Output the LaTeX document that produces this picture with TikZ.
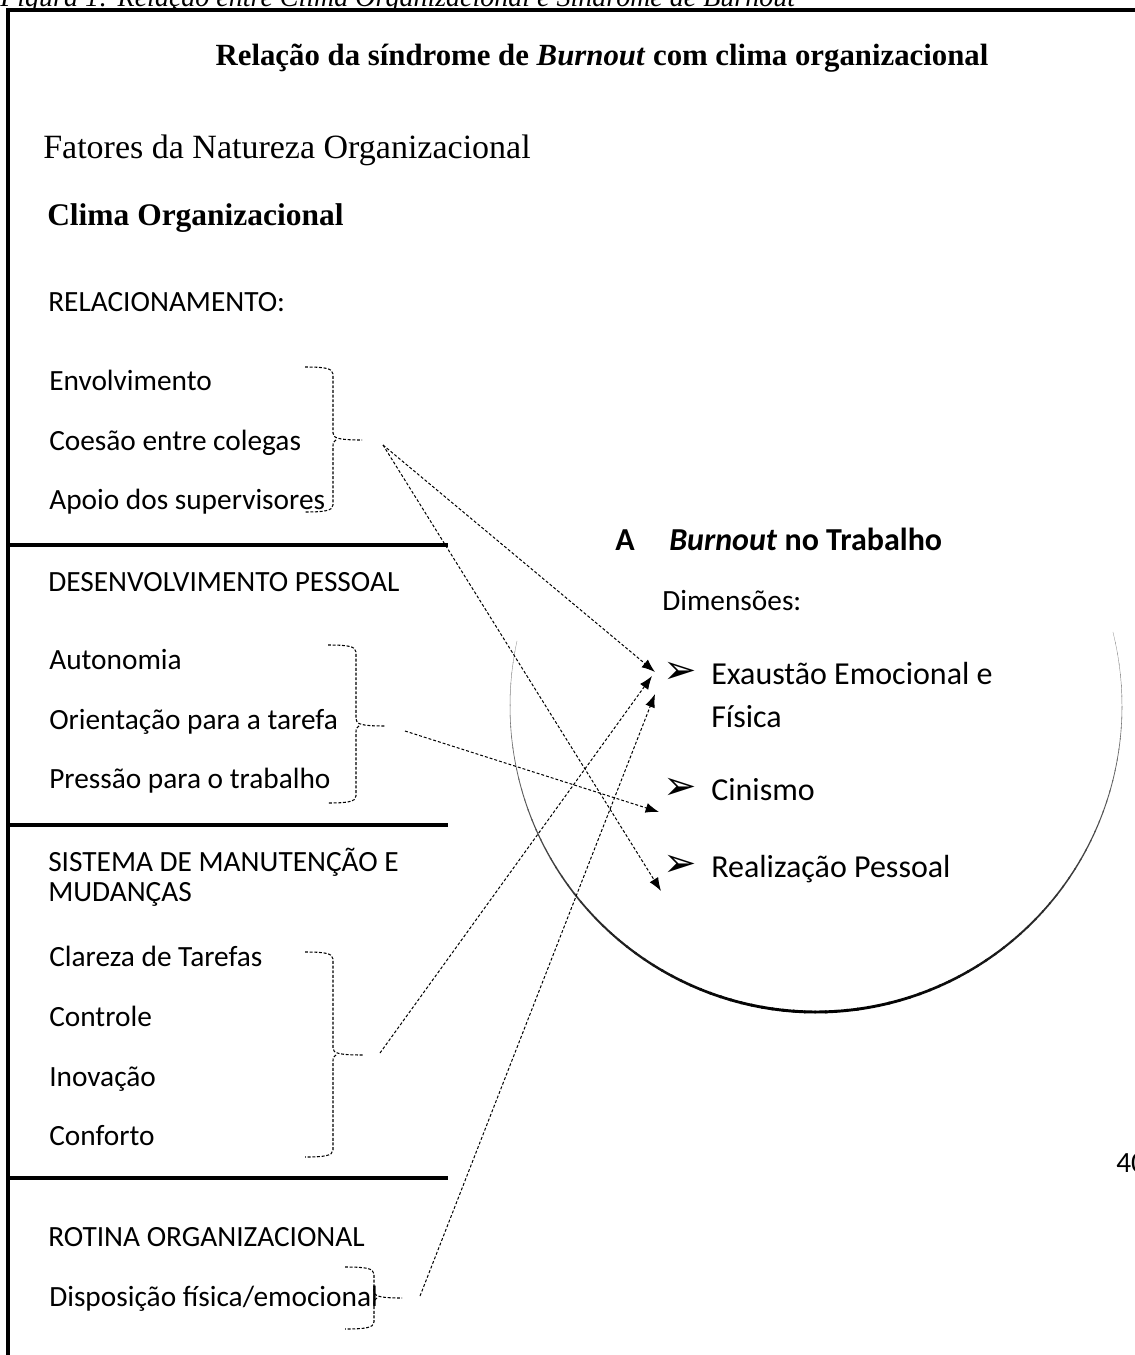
\documentclass[tikz,border=0pt]{standalone}
\usepackage{fontspec}
\setmainfont{Liberation Serif}
\newfontfamily\calfont{Carlito}
\newfontfamily\symfont{DejaVu Sans}
\usetikzlibrary{arrows.meta}
\newcommand\mybrace[6]{% L V T A M B
  \draw[bracestyle] (#1,#4) .. controls (#2-10,#4) and (#2,#4+1) .. (#2,#4+7) -- (#2,#5-7) .. controls (#2,#5-2) and (#2+5,#5) .. (#3,#5);
  \draw[bracestyle] (#2+3,#5) .. controls (#2,#5+1) and (#2,#5+3) .. (#2,#5+7) -- (#2,#6-7) .. controls (#2,#6-1) and (#2-10,#6) .. (#1,#6);
}
\begin{document}
\begin{tikzpicture}[x=0.75pt,y=-0.75pt,
  txt/.style={inner sep=0pt, anchor=base west, font=\calfont\fontsize{22}{26}\selectfont},
  bigtxt/.style={inner sep=0pt, anchor=base west, font=\calfont\fontsize{24}{28}\selectfont},
  bul/.style={inner sep=0pt, anchor=west, font=\symfont\fontsize{30}{34}\selectfont},
  frameline/.style={line width=2.4pt, line cap=rect},
  sepline/.style={line width=2.6pt},
  bracestyle/.style={line width=0.8pt, dash pattern=on 2.2pt off 1.3pt},
  link/.style={line width=0.75pt, dash pattern=on 2.2pt off 1.5pt, -{Latex[length=10pt,width=7.5pt]}}]
\useasboundingbox (0,0) rectangle (1134,1355);
% circle (lower part, varying width)
\coordinate (cen) at (816,706);
\foreach \a in {-14,-12,...,190}{
  \pgfmathsetmacro\f{((1+sin(\a+1))/2)^3}
  \pgfmathsetmacro\w{0.12+2.1*\f}
  \pgfmathsetmacro\pc{25+75*sqrt(\f)}
  \draw[line width=\w pt, black!\pc] ([shift={(\a:306)}]cen) arc[start angle=\a, end angle=\a+2.3, radius=306];
}
% caption (cut by top edge)
\node[inner sep=0pt, anchor=base west, font=\itshape\fontsize{21}{25}\selectfont] (cap) at (0,7) {Figura 1: Relação entre Clima Organizacional e Síndrome de \textit{Burnout}};
% frame
\draw[frameline] (8,1360) -- (8,10) -- (1140,10);
% titles
\node[inner sep=0pt, anchor=base, font=\bfseries\fontsize{23.1}{28}\selectfont] (title) at (602,66) {Relação da síndrome de \textit{Burnout} com clima organizacional};
\node[inner sep=0pt, anchor=base west, font=\fontsize{25.5}{30}\selectfont] (fat) at (43,159) {Fatores da Natureza Organizacional};
\node[inner sep=0pt, anchor=base west, font=\bfseries\fontsize{23.6}{28}\selectfont] (clima) at (47,226) {Clima Organizacional};
% left column
\node[txt] (rel) at (48,311) {RELACIONAMENTO:};
\node[txt] (env) at (49,390) {Envolvimento};
\node[txt] (coe) at (49,450) {Coesão entre colegas};
\node[txt] (apo) at (49,509) {Apoio dos supervisores};
\node[txt] (des) at (48,591) {DESENVOLVIMENTO PESSOAL};
\node[txt] (aut) at (49,669) {Autonomia};
\node[txt] (ori) at (49,729) {Orientação para a tarefa};
\node[txt] (pre) at (49,788) {Pressão para o trabalho};
\node[txt] (sis) at (48,871) {SISTEMA DE MANUTENÇÃO E};
\node[txt] (mud) at (48,901) {MUDANÇAS};
\node[txt] (cla) at (49,966) {Clareza de Tarefas};
\node[txt] (con) at (49,1026) {Controle};
\node[txt] (ino) at (49,1086) {Inovação};
\node[txt] (conf) at (49,1145) {Conforto};
\node[txt] (rot) at (48,1246) {ROTINA ORGANIZACIONAL};
\node[txt] (dis) at (49,1306) {Disposição física/emocional};
% separators
\draw[sepline] (8,545) -- (448,545);
\draw[sepline] (8,825) -- (448,825);
\draw[sepline] (8,1178) -- (448,1178);
% braces
\mybrace{305}{333}{362}{367}{440}{512}
\mybrace{328}{356}{385}{645}{726}{803}
\mybrace{305}{333}{363}{952}{1055}{1157}
\mybrace{345}{374}{402}{1267}{1298}{1329}
% right side
\node[inner sep=0pt, anchor=base west, font=\calfont\bfseries\fontsize{24}{28}\selectfont] (hA) at (615,550) {A};
\node[inner sep=0pt, anchor=base west, font=\calfont\bfseries\fontsize{24}{28}\selectfont] (hB) at (669,550) {\textit{Burnout} no Trabalho};
\node[txt] (dim) at (662,610) {Dimensões:};
\node[bul] (b1) at (663,673) {➢};
\node[bul] (b2) at (663,789) {➢};
\node[bul] (b3) at (663,866) {➢};
\node[bigtxt] (exa) at (711,684) {Exaustão Emocional e};
\node[bigtxt] (fis) at (711,727) {Física};
\node[bigtxt] (cin) at (711,800) {Cinismo};
\node[bigtxt] (rea) at (711,877) {Realização Pessoal};
\node[txt] (pg) at (1116,1172) {40};
% arrows
\coordinate (sA) at (383,445);
\coordinate (sC) at (405,731);
\coordinate (sD) at (380,1053);
\coordinate (sE) at (420,1296);
\coordinate (tA) at (655,672);
\coordinate (tB) at (661,891);
\coordinate (tC) at (659,812);
\coordinate (tD) at (652,676);
\coordinate (tE) at (655,694);
\draw[link] (sA) -- (tA);
\draw[link] (sA) -- (tB);
\draw[link] (sC) -- (tC);
\draw[link] (sD) -- (tD);
\draw[link] (sE) -- (tE);
\end{tikzpicture}
\end{document}
